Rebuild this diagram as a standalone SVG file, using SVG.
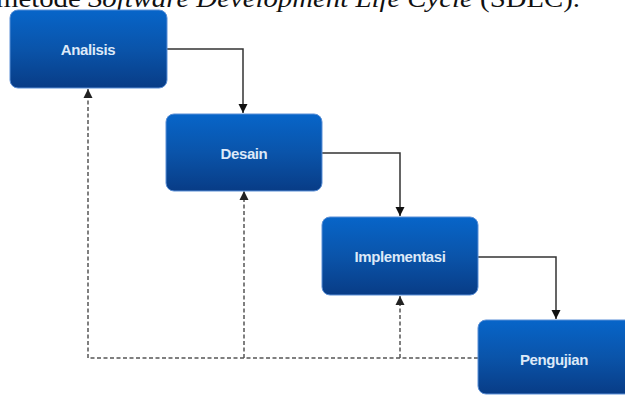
<svg xmlns="http://www.w3.org/2000/svg" width="625" height="395" viewBox="0 0 625 395">
<defs>
<linearGradient id="g" x1="0" y1="0" x2="0" y2="1">
<stop offset="0" stop-color="#0765c9"/>
<stop offset="0.5" stop-color="#0a54aa"/>
<stop offset="1" stop-color="#083c86"/>
</linearGradient>
<marker id="ah" markerWidth="10" markerHeight="10" refX="9" refY="5" orient="auto" markerUnits="userSpaceOnUse">
<path d="M0,0.5 L9,5 L0,9.5 Z" fill="#111"/>
</marker>
<marker id="ahd" markerWidth="10" markerHeight="10" refX="9" refY="5" orient="auto" markerUnits="userSpaceOnUse">
<path d="M0,0.5 L9,5 L0,9.5 Z" fill="#222"/>
</marker>
</defs>
<style>
.box{fill:url(#g);stroke:#5a8fd6;stroke-width:1}
.lbl{font-family:"Liberation Sans",Arial,sans-serif;font-weight:bold;font-size:15px;fill:#dde9f8;text-anchor:middle;letter-spacing:-0.4px}
.solid{fill:none;stroke:#333;stroke-width:1.5}
.dash{fill:none;stroke:#555;stroke-width:1.5;stroke-dasharray:4,2.5}
.cap{font-family:"Liberation Serif","Times New Roman",serif;font-size:26px;fill:#111}
</style>
<text class="cap" x="-4" y="7" textLength="584" lengthAdjust="spacingAndGlyphs">metode <tspan font-style="italic">Software Development Life Cycle</tspan> (SDLC).</text>
<g id="connectors">
<path class="solid" d="M167,49 H243 V113" marker-end="url(#ah)"/>
<path class="solid" d="M322,153 H400 V216" marker-end="url(#ah)"/>
<path class="solid" d="M478,257 H556 V319" marker-end="url(#ah)"/>
<path class="dash" d="M478,358 H88 V89" marker-end="url(#ahd)"/>
<path class="dash" d="M244,358 V191" marker-end="url(#ahd)"/>
<path class="dash" d="M400,358 V296" marker-end="url(#ahd)"/>
</g>
<g id="analisis">
<rect class="box" x="10" y="10" width="157" height="78" rx="8"/>
<text class="lbl" x="88" y="55">Analisis</text>
</g>
<g id="desain">
<rect class="box" x="166" y="114" width="156" height="77" rx="8"/>
<text class="lbl" x="244" y="159">Desain</text>
</g>
<g id="implementasi">
<rect class="box" x="322" y="217" width="156" height="78" rx="8"/>
<text class="lbl" x="400" y="262">Implementasi</text>
</g>
<g id="pengujian">
<rect class="box" x="478" y="320" width="156" height="74" rx="8"/>
<text class="lbl" x="554" y="365">Pengujian</text>
</g>
</svg>
